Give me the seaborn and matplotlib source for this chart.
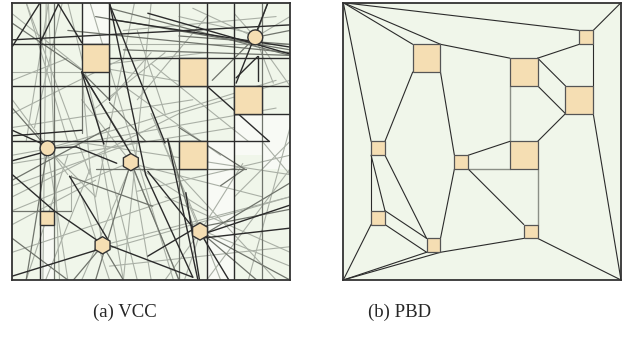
import pandas as pd
import seaborn as sns
import matplotlib.pyplot as plt
from matplotlib.patches import Rectangle, RegularPolygon

# Map coordinates: both panels are 100 x 100, y grows downward
big_boxes = [(25, 15), (60, 20), (80, 30), (60, 50)]          # 10 x 10 obstacles
small_boxes = [(85, 10), (10, 50), (40, 55), (10, 75), (30, 85), (65, 80)]  # 5 x 5 obstacles

# VCC panel: small obstacles seen as round / polygonal cells
vcc_round_centers = [(87.5, 12.5), (12.7, 52.5), (42.7, 57.5), (32.5, 87.5), (67.6, 82.5)]
vcc_round_sides = [16, 16, 6, 6, 6]
vcc_square_small = [(10, 75)]

# VCC segments (x0, y0, x1, y1)
vcc_dark = [
    (10, 0, 10, 100), (70, 0, 70, 100), (80, 0, 80, 100), (25, 0, 25, 15), (35, 0, 35, 35),
    (0, 30, 100, 30), (0, 50, 92.5, 50), (35, 20, 100, 20), (80, 40, 100, 40), (0, 15, 35, 15),
    (0, 13.4, 100, 8), (48.8, 3.8, 100, 18.5), (0, 15.8, 10, 0), (10, 14.5, 16.6, 0.5),
    (16.4, 0.2, 25, 14.4), (25, 25, 43, 55), (25, 25, 33, 51), (35, 0, 48, 62), (48, 62, 65, 99),
    (0, 62, 15, 75), (15, 75, 31, 86), (31, 86, 65, 99), (0, 98.6, 31, 89),
    (67.6, 85, 100, 81.3), (12.7, 52.5, 23, 52), (23, 52, 37.6, 57.9), (70, 30, 92.5, 50),
    (80.6, 29, 92, 0.2), (48.8, 60.8, 65, 81), (48.8, 91.4, 65, 81.8), (67.4, 82.5, 78, 100),
    (62.5, 68.5, 67.4, 100), (0, 46, 11, 51), (0, 57, 11, 54), (20.6, 62.6, 34.4, 85.4),
    (35, 0.5, 55, 50.6), (80.6, 27.1, 88.4, 19.4), (88.4, 19.4, 88.4, 28.4), (56, 49.4, 66.8, 99.8),
    (100, 73, 70, 83), (0, 48, 25, 46), (35, 6, 100, 16),
]
vcc_mid = [
    (15, 0, 15, 100), (60, 0, 60, 100), (90, 0, 90, 100), (25, 25, 25, 47), (30, 60, 84, 60),
    (35, 2, 100, 19), (20.6, 62.6, 50.6, 73.4), (67, 81, 100, 74.5),
    (100, 65, 70, 83), (30, 5, 100, 17), (20, 10, 100, 18), (0, 64, 35, 45), (56, 49, 65, 80.6),
    (12.7, 52.5, 5, 100), (42.7, 57.5, 30, 100), (32.5, 87.5, 40, 100), (67.6, 82.5, 88, 100),
    (87.5, 12.5, 72, 28), (0, 75, 21, 75), (25, 25, 35, 35), (35, 36, 48, 50), (0, 85, 20, 100),
    (60, 12, 100, 15), (40, 17, 100, 19), (83.6, 60, 75, 66), (83.6, 60, 60, 45),
    (87.5, 12.5, 92, 0), (87.5, 12.5, 100, 10), (25, 25, 40.6, 50.6), (0, 7.4, 24.8, 24.2),
    (67.6, 82.5, 100, 100), (32.5, 87.5, 22, 100), (12.7, 52.5, 0, 38), (42.7, 57.5, 60, 100),
]
vcc_light = [
    (0, 4, 25, 24), (5, 0, 20, 50), (13, 0, 5, 50), (18, 0, 8, 45), (0, 40, 40, 20),
    (0, 45, 65, 35), (0, 55, 95, 38), (0, 58, 80, 45), (0, 70, 60, 40), (0, 66, 45, 50),
    (0, 80, 30, 64), (5, 100, 20, 55), (20, 100, 13, 55), (25, 100, 43, 58), (40, 100, 32, 55),
    (50, 100, 43, 58), (60, 100, 43, 58), (55, 100, 68, 82), (62, 100, 68, 82), (75, 100, 68, 82),
    (100, 95, 68, 82), (100, 88, 35, 95), (100, 70, 30, 90), (100, 62, 22, 50), (100, 55, 45, 68),
    (90, 70, 43, 58), (70, 75, 43, 58), (50, 40, 68, 82), (83, 58, 68, 82), (100, 5, 87.5, 12.5),
    (80, 4, 87.5, 12.5), (65, 2, 87.5, 12.5), (100, 30, 87.5, 12.5), (94, 29, 87.5, 12.5),
    (50, 0, 40, 100), (20, 0, 45, 100), (28, 0, 58, 100), (44, 0, 30, 70), (60, 5, 90, 12),
    (40, 10, 95, 5), (35, 24, 70, 30), (35, 35, 50, 18), (55, 18, 30, 38), (60, 40, 100, 28),
    (40, 45, 95, 28), (0, 25, 25, 25), (25, 15, 100, 15), (50, 22, 85, 50), (5, 0, 28, 62),
    (21, 62, 21, 75), (0, 35, 20, 62), (12, 100, 28, 60), (35, 100, 25, 70), (85, 100, 100, 45),
    (95, 100, 60, 62), (70, 100, 100, 60), (0, 90, 60, 70), (40, 30, 75, 55),
    (12.2, 0, 11, 100), (13, 0, 17, 100), (25, 25, 28, 60), (35, 22, 70, 18), (0, 28, 20, 20),
    (45, 10, 55, 40), (70, 5, 45, 35), (90, 50, 100, 62), (100, 50, 80, 70), (12.7, 52.5, 30, 70),
    (12.7, 52.5, 40, 45), (42.7, 57.5, 0, 75), (42.7, 57.5, 25, 35), (32.5, 87.5, 28, 60),
    (67.6, 82.5, 50, 40), (32.5, 87.5, 100, 70), (55, 70, 100, 90),
]

# PBD segments
pbd_edges = [
    (0, 0, 85, 10), (0, 0, 25, 15), (0, 0, 35, 15), (0, 0, 10, 50), (100, 0, 90, 10),
    (35, 15, 60, 20), (70, 20, 85, 15), (70, 20, 80, 30), (70, 30, 80, 40), (90, 15, 90, 30),
    (90, 40, 100, 100), (80, 40, 70, 50), (45, 55, 60, 50), (45, 60, 65, 80), (40, 55, 35, 25),
    (40, 60, 35, 85), (25, 25, 15, 50), (10, 55, 10, 75), (10, 55, 15, 75), (15, 55, 30, 85),
    (15, 75, 30, 85), (15, 80, 30, 90), (10, 80, 0, 100), (0, 100, 30, 90), (0, 100, 35, 90),
    (35, 90, 65, 85), (70, 85, 100, 100),
]
pbd_gray_edges = [(60, 30, 60, 50), (70, 60, 70, 80), (45, 60, 60, 60)]

captions = ["(a) VCC", "(b) PBD"]

bg_green = "#f0f6ea"
box_fill = "#f5deb3"


def seg_frame(segs):
    rows = []
    for i, (x0, y0, x1, y1) in enumerate(segs):
        rows.append({"seg": i, "x": x0, "y": y0})
        rows.append({"seg": i, "x": x1, "y": y1})
    return pd.DataFrame(rows)


def draw_segs(ax, segs, color, lw, z):
    sns.lineplot(data=seg_frame(segs), x="x", y="y", units="seg", estimator=None,
                 sort=False, color=color, linewidth=lw, ax=ax, zorder=z)


def style_panel(ax):
    ax.set_xlim(0, 100)
    ax.set_ylim(100, 0)
    ax.set(xlabel="", ylabel="", xticks=[], yticks=[])
    ax.set_facecolor(bg_green)
    for s in ax.spines.values():
        s.set_visible(True)
        s.set_color("#333333")
        s.set_linewidth(1.3)
        s.set_zorder(10)


sns.set_style("white")
plt.rcParams["font.family"] = ["Liberation Serif", "DejaVu Serif"]

fig = plt.figure(figsize=(6.31, 3.39), dpi=100)
ax1 = fig.add_axes([12.3 / 631, 59 / 339, 277.7 / 631, 277.3 / 339])
ax2 = fig.add_axes([343.3 / 631, 59 / 339, 277.7 / 631, 277.3 / 339])

# ---- (a) VCC ----
for (x0, y0, w, h) in [(25, 0, 10, 15), (10, 80, 5, 20), (70, 50, 10, 50), (90, 40, 10, 20), (80, 40, 10, 15)]:
    ax1.add_patch(Rectangle((x0, y0), w, h, facecolor="#f8faf5", edgecolor="none", zorder=0.5))
draw_segs(ax1, vcc_light, "#aab0a6", 0.8, 1)
draw_segs(ax1, vcc_mid, "#70746c", 0.9, 2)
draw_segs(ax1, vcc_dark, "#2b2b2b", 1.0, 3)
for (x, y) in big_boxes:
    ax1.add_patch(Rectangle((x, y), 10, 10, facecolor=box_fill, edgecolor="#333333", lw=1.0, zorder=5))
for (x, y) in vcc_square_small:
    ax1.add_patch(Rectangle((x, y), 5, 5, facecolor=box_fill, edgecolor="#333333", lw=1.0, zorder=5))
for (cx, cy), n in zip(vcc_round_centers, vcc_round_sides):
    r = 2.7 if n > 8 else 3.1
    ax1.add_patch(RegularPolygon((cx, cy), numVertices=n, radius=r, facecolor=box_fill,
                                 edgecolor="#333333", lw=1.0, zorder=5))
style_panel(ax1)

# ---- (b) PBD ----
draw_segs(ax2, pbd_gray_edges, "#8a8f86", 1.0, 2)
draw_segs(ax2, pbd_edges, "#2b2b2b", 0.8, 3)
for (x, y) in big_boxes:
    ax2.add_patch(Rectangle((x, y), 10, 10, facecolor=box_fill, edgecolor="#555555", lw=0.9, zorder=5))
for (x, y) in small_boxes:
    ax2.add_patch(Rectangle((x, y), 5, 5, facecolor=box_fill, edgecolor="#555555", lw=0.9, zorder=5))
style_panel(ax2)

fig.text(125 / 631, 1 - 312 / 339, captions[0], ha="center", va="center", fontsize=13.5)
fig.text(400 / 631, 1 - 312 / 339, captions[1], ha="center", va="center", fontsize=13.5)

fig.savefig("out.png", dpi=100, facecolor="white")
